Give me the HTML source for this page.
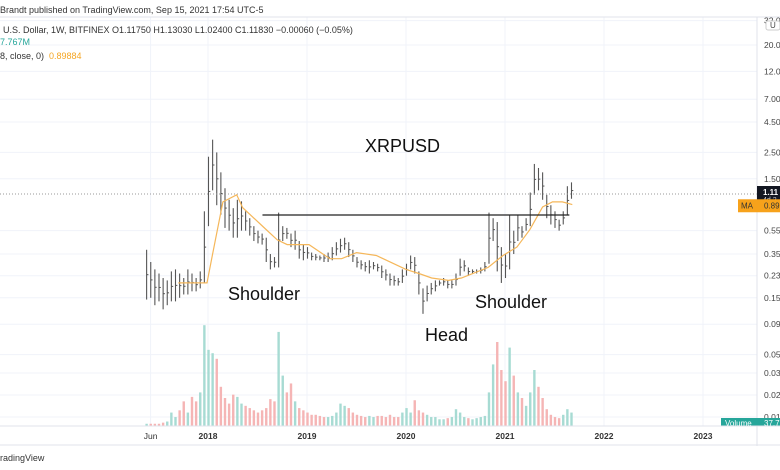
<!DOCTYPE html>
<html><head><meta charset="utf-8">
<style>
body{margin:0;background:#fff;font-family:"Liberation Sans","DejaVu Sans",sans-serif;}
#wrap{position:relative;width:780px;height:470px;overflow:hidden;background:#fff}
svg{position:absolute;left:0;top:0}
</style></head>
<body>
<div id="wrap">
<svg id="chart" width="780" height="470"></svg>
</div>
<script>
const priceTicks=[32,20,12,7,4.5,2.5,1.5,0.55,0.35,0.23,0.15,0.09,0.05];
const priceTickLabels=["32.0","20.0","12.0","7.00","4.50","2.50","1.50","0.55","0.35","0.23","0.15","0.09","0.05"];
const lowTickLabels=["0.03","0.02","0.01"];
const yearTicks=[2017.42,2018,2019,2020,2021,2022,2023];
const yearLabels=["Jun","2018","2019","2020","2021","2022","2023"];
const barStart=2017.38;
const highs=[.38,.30,.26,.24,.22,.21,.25,.26,.24,.22,.26,.24,.22,.25,.80,2.3,3.2,2.5,1.7,1.25,1.0,.85,1.0,.97,.80,.70,.60,.55,.52,.48,.35,.33,.78,.60,.58,.52,.55,.45,.42,.40,.36,.35,.34,.35,.36,.40,.44,.47,.48,.44,.38,.33,.31,.30,.31,.30,.29,.28,.26,.24,.23,.22,.26,.29,.34,.33,.25,.18,.19,.20,.21,.21,.22,.21,.21,.24,.32,.31,.27,.26,.26,.27,.30,.78,.70,.65,.40,.35,.75,.55,.75,.60,.70,1.15,2.0,1.85,1.70,1.1,.90,.80,.68,.80,1.30,1.40];
const lows=[.145,.15,.13,.14,.12,.13,.14,.14,.15,.16,.16,.17,.17,.18,.20,.60,1.2,.9,.75,.58,.55,.48,.48,.55,.55,.50,.45,.43,.42,.30,.26,.27,.27,.45,.47,.40,.38,.32,.31,.32,.31,.31,.31,.30,.30,.31,.34,.36,.38,.33,.30,.27,.26,.25,.24,.26,.25,.22,.21,.19,.19,.19,.20,.23,.26,.24,.16,.11,.14,.16,.17,.19,.19,.18,.18,.19,.23,.25,.23,.24,.24,.24,.25,.29,.45,.25,.20,.22,.26,.35,.45,.48,.55,.60,1.1,1.2,1.0,.70,.62,.58,.55,.62,.75,1.02];
const volumes=[2,2,2,2,3,4,12,8,14,22,12,26,22,30,90,68,65,60,35,25,20,28,26,20,18,16,14,12,14,16,24,22,84,45,30,38,22,16,14,12,10,10,9,8,8,9,12,20,18,16,12,10,9,8,9,8,9,9,8,10,8,8,12,16,12,23,14,12,10,8,8,6,6,7,8,15,12,8,7,6,7,8,9,30,55,75,50,40,70,45,30,25,18,30,50,35,25,15,10,8,7,10,15,12];
const maDates=[2017.7,2017.99,2018.04,2018.15,2018.29,2018.35,2018.56,2018.7,2018.8,2019.02,2019.23,2019.35,2019.5,2019.7,2020.0,2020.13,2020.26,2020.43,2020.56,2020.83,2020.98,2021.12,2021.25,2021.38,2021.48,2021.58,2021.68];
const maValues=[0.2,0.2,0.33,0.96,1.1,0.86,0.59,0.46,0.42,0.42,0.32,0.32,0.36,0.34,0.26,0.24,0.22,0.21,0.22,0.27,0.34,0.4,0.56,0.87,0.96,0.96,0.91];
const necklinePrice=0.745, necklineFrom=2018.55, necklineTo=2021.65;
const lastPrice=1.118;

const NS="http://www.w3.org/2000/svg";
const svg=document.getElementById('chart');
const xOf=d=>208+99*(d-2018);
const yOf=p=>194-119*Math.log10(p/lastPrice);
const volBase=426, volScale=1.12;
function mk(tag,attrs,parent){const e=document.createElementNS(NS,tag);for(const k in attrs)e.setAttribute(k,attrs[k]);(parent||svg).appendChild(e);return e;}

// grid
const grid=mk('g',{});


priceTicks.forEach(p=>{const l=mk('line',{x1:0,x2:757,y1:yOf(p),y2:yOf(p),stroke:'#f0f3fa','stroke-width':1},grid);});
[373,395,417].forEach(y=>mk('line',{x1:0,x2:757,y1:y,y2:y,stroke:'#f0f3fa'},grid));
yearTicks.forEach(d=>mk('line',{x1:xOf(d),x2:xOf(d),y1:17,y2:426,stroke:'#f0f3fa'},grid));
// header
mk('line',{x1:0,x2:780,y1:17,y2:17,stroke:'#e0e3eb'});
function txt(s,x,y,o,name){const t=mk('text',Object.assign({x:x,y:y,'font-size':9,fill:'#131722'},o||{}));t.textContent=s;return t;}
txt('Brandt published on TradingView.com, Sep 15, 2021 17:54 UTC-5',0,13,{fill:'#333'},'publish-info');
txt('U.S. Dollar, 1W, BITFINEX  O1.11750  H1.13030  L1.02400  C1.11830  −0.00060 (−0.05%)',3,33,{fill:'#333'},'ohlc-legend');
txt('7.767M',0,45,{fill:'#26a69a'},'volume-legend');
const ma=txt('8, close, 0)',0,59,{fill:'#333'},'ma-legend');
txt('0.89884',49,59,{fill:'#f5a623'},'ma-value');

// volume
const vg=mk('g',{});


volumes.forEach((v,i)=>{
  const x=xOf(barStart+i/24);
  const mid=(highs[i]+lows[i])/2, pm=i>0?(highs[i-1]+lows[i-1])/2:mid;
  const r=mk('rect',{x:x-1.2,y:volBase-v*volScale,width:2.4,height:v*volScale,fill:mid>=pm?'#a7dbd3':'#f5b5b5'},vg);
  
  
});
// price bars
const pg=mk('g',{});


highs.forEach((h,i)=>{
  const x=xOf(barStart+i/24);
  const b=mk('line',{x1:x,x2:x,y1:yOf(h),y2:yOf(lows[i]),stroke:'#555','stroke-width':1.1},pg);
  
  
  const mid=Math.sqrt(h*lows[i]);
  mk('line',{x1:x,x2:x+1.8,y1:yOf(mid),y2:yOf(mid),stroke:'#555','stroke-width':1},pg);
});
// MA
const maPath=mk('path',{d:maDates.map((d,i)=>(i?'L':'M')+xOf(d).toFixed(1)+','+yOf(maValues[i]).toFixed(1)).join(''),fill:'none',stroke:'#f5b75a','stroke-width':1.2});


// neckline
const nl=mk('line',{x1:xOf(necklineFrom),x2:xOf(necklineTo),y1:yOf(necklinePrice),y2:yOf(necklinePrice),stroke:'#222','stroke-width':1.3});


// last price dotted
const lp=mk('line',{x1:0,x2:757,y1:yOf(lastPrice),y2:yOf(lastPrice),stroke:'#999','stroke-dasharray':'1,2'});


// annotations
txt('XRPUSD',365,152,{'font-size':18,fill:'#111'},'title-annotation');
txt('Shoulder',228,300,{'font-size':18,fill:'#111'},'left-shoulder-label');
txt('Head',425,341,{'font-size':18,fill:'#111'},'head-label');
txt('Shoulder',475,308,{'font-size':18,fill:'#111'},'right-shoulder-label');

// right axis
mk('line',{x1:757,x2:757,y1:17,y2:446,stroke:'#e0e3eb'});
priceTicks.forEach((p,i)=>txt(priceTickLabels[i],764,yOf(p)+3,{fill:'#444','font-size':8.5},'price-tick-label'));
[376,398,420].forEach((y,i)=>txt(lowTickLabels[i],764,y,{fill:'#444','font-size':8.5},'price-tick-label'));
mk('rect',{x:766,y:21,width:14,height:9,fill:'#fff',stroke:'#ccc',rx:2});
txt('U',770,28,{fill:'#444','font-size':8},'unit-button');
// price label
const yp=yOf(lastPrice);
mk('rect',{x:757,y:yp-8,width:23,height:17,fill:'#131722'});
txt('1.11',763,yp+1,{fill:'#fff','font-size':8,'font-weight':'bold'},'last-price-label');
txt('4d 2',763,yp+8,{fill:'#ccc','font-size':7},'countdown-label');
mk('rect',{x:738,y:yOf(0.899)-6,width:42,height:13,fill:'#f7a21b'});
txt('MA',741,yOf(0.899)+3,{fill:'#333','font-size':8},'ma-axis-tag');
txt('0.89',764,yOf(0.899)+3,{fill:'#333','font-size':8},'ma-axis-value');
mk('rect',{x:721,y:418,width:59,height:8,fill:'#26a69a'});
txt('Volume',725,426,{fill:'#fff','font-size':8},'volume-axis-tag');
txt('37.7',764,426,{fill:'#fff','font-size':8},'volume-axis-value');
// time axis
mk('line',{x1:0,x2:780,y1:426,y2:426,stroke:'#e0e3eb'});
mk('line',{x1:0,x2:780,y1:445,y2:445,stroke:'#e0e3eb'});
yearTicks.forEach((d,i)=>txt(yearLabels[i],xOf(d),439,{fill:'#333','font-size':8.5,'font-weight':i?'bold':'normal','text-anchor':'middle'},'time-tick-label'));
txt('radingView',0,461,{fill:'#333','font-size':9},'tradingview-logo');
</script>
</body></html>
